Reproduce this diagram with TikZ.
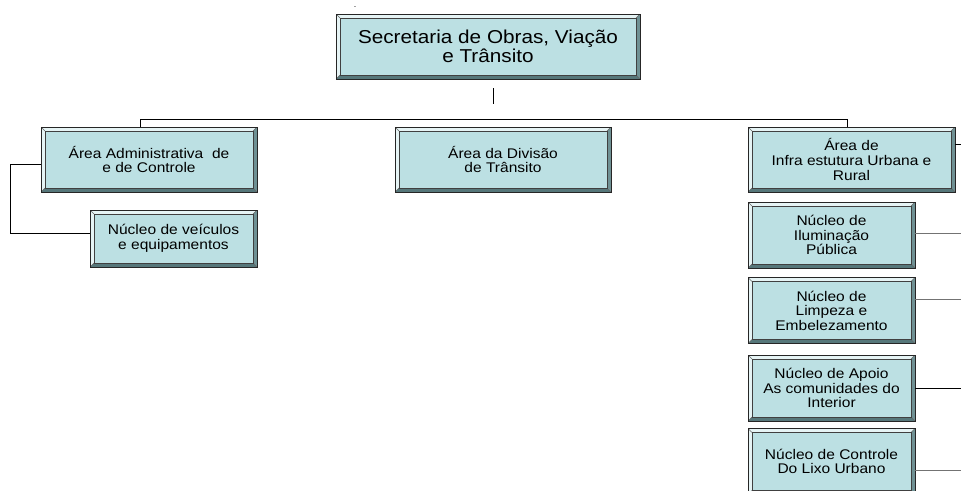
\documentclass[tikz,border=0pt]{standalone}
\usepackage{fontspec}
\setmainfont{Liberation Sans}[FakeStretch=1.11]
\usetikzlibrary{positioning}
\definecolor{boxfill}{HTML}{BCE0E3}
\definecolor{bevlight}{HTML}{E6F4F5}
\definecolor{bevright}{HTML}{6F9194}
\definecolor{bevbottom}{HTML}{56777A}
\tikzset{
    every node/.style={font=\fontsize{10.5}{11.2}\selectfont},
    orgbox/.style={
        draw=black!85,
        fill=boxfill,
        align=center,
        inner sep=0pt,
        path picture={
            \coordinate (pnw) at (path picture bounding box.north west);
            \coordinate (pne) at (path picture bounding box.north east);
            \coordinate (psw) at (path picture bounding box.south west);
            \coordinate (pse) at (path picture bounding box.south east);
            \fill[bevlight] (pnw) -- (pne) -- ([shift={(-3pt,-3pt)}]pne)
                -- ([shift={(3pt,-3pt)}]pnw) -- ([shift={(3pt,3pt)}]psw) -- (psw) -- cycle;
            \fill[bevright] (pne) -- (pse) -- ([shift={(-3pt,3pt)}]pse)
                -- ([shift={(-3pt,-3pt)}]pne) -- cycle;
            \fill[bevbottom] (psw) -- (pse) -- ([shift={(-3pt,3pt)}]pse)
                -- ([shift={(3pt,3pt)}]psw) -- cycle;
            \draw[black!60, line width=0.4pt] (pnw) -- ++(3pt,-3pt) (pne) -- ++(-3pt,-3pt)
                (psw) -- ++(3pt,3pt) (pse) -- ++(-3pt,3pt);
            \draw[black!75, line width=0.5pt] ([shift={(3pt,-3pt)}]pnw) rectangle ([shift={(-3pt,3pt)}]pse);
        }},
    chief/.style={
        orgbox,
        minimum width=228pt,
        minimum height=48.75pt,
        font=\fontsize{14}{14.5}\selectfont},
    area/.style={
        orgbox,
        minimum width=162pt,
        minimum height=48.75pt},
    nucleo/.style={
        orgbox,
        minimum width=125.25pt,
        minimum height=49.5pt,
        font=\fontsize{10.5}{10.9}\selectfont},
    link/.style={
        draw=black,
        line width=0.75pt},
    faint/.style={
        link,
        draw=black!55}
}

\begin{document}
\begin{tikzpicture}[x=0.75pt,y=-0.75pt]
    \useasboundingbox (0,0) rectangle (961,490);

    \node[anchor=base,inner sep=0pt,font=\fontsize{6}{6}\selectfont] (dot) at (355,7) {.};
    \node[chief] (sec) at (488,46.5) {Secretaria de Obras, Viação\\e Trânsito};

    \node[area] (adm) at (149,159.5) {Área Administrativa~ de\\e de Controle};
    \node[area] (div) at (503,159.5) {Área da Divisão\\de Trânsito};
    \node[area,minimum width=155.25pt] (infra) at (851.5,159.5) {Área de\\Infra estutura Urbana e\\Rural};

    \node[nucleo,minimum height=42.75pt] (veic) at (173.5,238.5) {Núcleo de veículos\\e equipamentos};
    \node[nucleo] (ilum) at (831.5,235) {Núcleo de\\Iluminação\\Pública};
    \node[nucleo] (limp) at (831.5,310.5) {Núcleo de\\Limpeza e\\Embelezamento};
    \node[nucleo] (apoio) at (831.5,388) {Núcleo de Apoio\\As comunidades do\\Interior};
    \node[nucleo] (lixo) at (831.5,461.5) {Núcleo de Controle\\Do Lixo Urbano};

    % tick under the top box
    \coordinate (tickA) at (493,88);
    \coordinate (tickB) at (493,104);
    \draw[link] (tickA) -- (tickB);

    % bus to the areas
    \coordinate (busL) at (140,119);
    \coordinate (busR) at (847,119);
    \draw[link] (busL |- adm.north) -- (busL) -- (busR) -- (busR |- infra.north);

    \draw[link] ([yshift=-3.4pt]adm.west) -- ++(-30,0) |- ([yshift=4pt]veic.west);

    % lines out of the right edge
    \draw[link] ([yshift=11.6pt]infra.east) -- ++(12,0);
    \draw[faint] ([yshift=1.5pt]ilum.east) -- ++(52,0);
    \draw[faint] ([yshift=8.6pt]limp.east) -- ++(52,0);
    \draw[link] (apoio.east) -- ++(52,0);
    \draw[faint] ([yshift=-6.4pt]lixo.east) -- ++(52,0);
\end{tikzpicture}
\end{document}
